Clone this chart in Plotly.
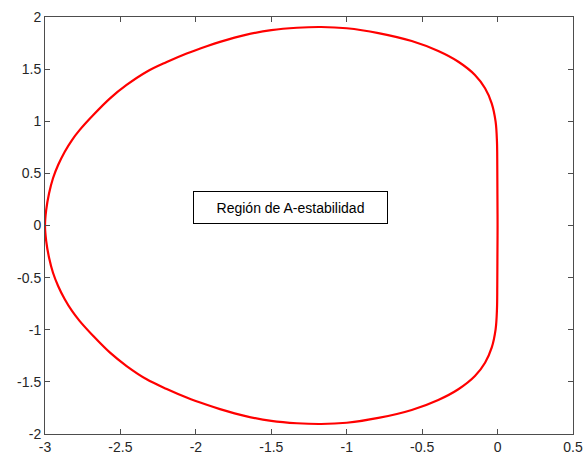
import plotly.graph_objects as go

# Boundary of the stability region, upper half, from (0,0) round to (-3,0)
re_upper = [0.0, -0.001, -0.002, -0.004, -0.013, -0.039, -0.083, -0.15, -0.26, -0.393,
            -0.569, -0.79, -1.0, -1.17, -1.33, -1.5, -1.67, -1.84, -1.928, -2.061, -2.193,
            -2.326, -2.459, -2.569, -2.68, -2.771, -2.821, -2.869, -2.913, -2.947, -2.973,
            -2.992, -3.0]
im_upper = [0.0, 0.3, 0.58, 0.804, 0.996, 1.172, 1.316, 1.444, 1.571, 1.674,
            1.77, 1.846, 1.892, 1.904, 1.897, 1.874, 1.828, 1.761, 1.72, 1.65, 1.568,
            1.475, 1.348, 1.22, 1.06, 0.915, 0.82, 0.708, 0.58, 0.453, 0.309,
            0.149, 0.0]
# lower half (mirror image)
re_lower = list(reversed(re_upper))[1:]
im_lower = [-v for v in reversed(im_upper)][1:]

label_text = "Región de A-estabilidad"
label_x = -1.371
label_y = 0.173

x_tickvals = [-3, -2.5, -2, -1.5, -1, -0.5, 0, 0.5]
x_ticktext = ["-3", "-2.5", "-2", "-1.5", "-1", "-0.5", "0", "0.5"]
y_tickvals = [-2, -1.5, -1, -0.5, 0, 0.5, 1, 1.5, 2]
y_ticktext = ["-2", "-1.5", "-1", "-0.5", "0", "0.5", "1", "1.5", "2"]

re_all = re_upper + re_lower
im_all = im_upper + im_lower

fig = go.Figure()
fig.add_trace(go.Scatter(x=re_all, y=im_all, mode="lines",
                         line=dict(color="#ff0000", width=2.2, shape="spline", smoothing=1.0),
                         showlegend=False, hoverinfo="skip"))

fig.add_annotation(x=label_x, y=label_y, xref="x", yref="y", text=label_text,
                   showarrow=False, font=dict(family="Liberation Sans, Arial", size=14, color="#000000"),
                   bordercolor="#000000", borderwidth=1, borderpad=1, bgcolor="#ffffff",
                   width=191, height=29, align="center", valign="middle")

axis_common = dict(showgrid=False, zeroline=False, showline=True, linecolor="#4d4d4d", linewidth=1,
                   mirror="ticks", ticks="inside", ticklen=5, tickcolor="#4d4d4d", automargin=False,
                   tickfont=dict(family="Liberation Sans, Arial", size=14, color="#262626"))

fig.update_xaxes(range=[-3, 0.5], tickvals=x_tickvals, ticktext=x_ticktext, **axis_common)
fig.update_yaxes(range=[-2, 2], tickvals=y_tickvals, ticktext=y_ticktext, **axis_common)

fig.update_layout(width=584, height=457, margin=dict(l=45, r=11, t=17, b=23),
                  paper_bgcolor="#ffffff", plot_bgcolor="#ffffff")

# remove the default page margin so the figure fills the window exactly
fig.write_html("out.html", config={"displayModeBar": False},
               post_script="document.body.style.margin='0';document.body.style.overflow='hidden';")
